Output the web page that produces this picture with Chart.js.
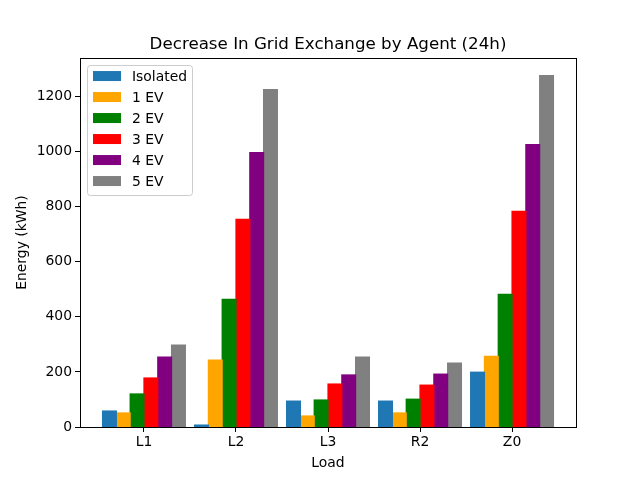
<!DOCTYPE html>
<html>
<head>
    <script src="https://cdn.jsdelivr.net/npm/chart.js@4/dist/chart.umd.min.js"></script>
    <style>
        html, body { margin: 0; padding: 0; background: #fff; }
        #wrap { width: 640px; height: 480px; }
    </style>
</head>
<body>
    <div id="wrap"><canvas id="chart" width="640" height="480"></canvas></div>
    <script>
        // loads on the x axis
        const loads = ['L1', 'L2', 'L3', 'R2', 'Z0'];
        // energy decrease (kWh) per series
        const isolated = [58, 7, 94, 94, 199];
        const ev1 = [51, 243, 40, 51, 257];
        const ev2 = [120, 464, 98, 101, 482];
        const ev3 = [178, 754, 156, 152, 783];
        const ev4 = [254, 997, 189, 192, 1026];
        const ev5 = [297, 1225, 254, 232, 1276];
        const seriesNames = ['Isolated', '1 EV', '2 EV', '3 EV', '4 EV', '5 EV'];
        const seriesValues = [isolated, ev1, ev2, ev3, ev4, ev5];
        const seriesColors = ['#1f77b4', '#ffa500', '#008000', '#ff0000', '#800080', '#808080'];
        const yTicks = [0, 200, 400, 600, 800, 1000, 1200];

        const FONT = 'DejaVu Sans';

        // box round the plot area, like matplotlib spines
        const frame = {
            id: 'frame',
            afterDatasetsDraw(chart) {
                const a = chart.chartArea;
                const ctx = chart.ctx;
                ctx.save();
                ctx.strokeStyle = '#000';
                ctx.lineWidth = 1;
                ctx.strokeRect(Math.round(a.left) + 0.5, Math.round(a.top) + 0.5,
                    Math.round(a.right - a.left), Math.round(a.bottom - a.top));
                ctx.restore();
            }
        };

        // legend inside the upper left corner
        const innerLegend = {
            id: 'innerLegend',
            afterDraw(chart) {
                const a = chart.chartArea;
                const ctx = chart.ctx;
                const x0 = a.left + 7, y0 = a.top + 7;
                const w = 105, h = 130, row = 21;
                ctx.save();
                ctx.fillStyle = 'rgba(255,255,255,0.8)';
                ctx.strokeStyle = '#cccccc';
                ctx.lineWidth = 1;
                ctx.beginPath();
                ctx.roundRect(x0 + 0.5, y0 + 0.5, w, h, 3);
                ctx.fill();
                ctx.stroke();
                ctx.font = '13.9px ' + FONT;
                ctx.textBaseline = 'middle';
                chart.data.datasets.forEach((ds, i) => {
                    const cy = y0 + 11 + i * row;
                    ctx.fillStyle = ds.backgroundColor;
                    ctx.fillRect(x0 + 6, cy - 5, 28, 10);
                    ctx.fillStyle = '#000';
                    ctx.fillText(ds.label, x0 + 45, cy + 1);
                });
                ctx.restore();
            }
        };

        new Chart(document.getElementById('chart'), {
            type: 'bar',
            data: {
                datasets: seriesNames.map((name, i) => ({
                    label: name,
                    data: seriesValues[i].map((v, j) => ({ x: j, y: v })),
                    backgroundColor: seriesColors[i],
                    borderWidth: 0,
                    inflateAmount: 0.6,
                    categoryPercentage: 0.9,
                    barPercentage: 1.0
                }))
            },
            options: {
                responsive: false,
                animation: false,
                layout: { padding: { left: 0, right: 64, top: 0, bottom: 0 } },
                plugins: {
                    legend: { display: false },
                    tooltip: { enabled: false },
                    title: {
                        display: true,
                        fullSize: false,
                        text: 'Decrease In Grid Exchange by Agent (24h)',
                        color: '#000',
                        font: { family: FONT, size: 16.7, weight: 'normal' },
                        padding: { top: 35, bottom: 3 }
                    }
                },
                scales: {
                    x: {
                        type: 'linear',
                        offset: false,
                        min: -0.695,
                        max: 4.695,
                        afterBuildTicks(scale) {
                            scale.ticks = loads.map((_, i) => ({ value: i }));
                        },
                        afterFit(scale) { scale.height = 53; },
                        ticks: {
                            callback: (v) => loads[v],
                            color: '#000',
                            font: { family: FONT, size: 13.9 },
                            padding: 2,
                            maxRotation: 0,
                            autoSkip: false
                        },
                        grid: { drawOnChartArea: false, offset: false, tickLength: 5, color: '#000' },
                        border: { color: '#000' },
                        title: {
                            display: true,
                            text: 'Load',
                            color: '#000',
                            font: { family: FONT, size: 13.9 },
                            padding: { top: 2, bottom: 8 }
                        }
                    },
                    y: {
                        min: 0,
                        max: 1340,
                        afterBuildTicks(scale) {
                            scale.ticks = yTicks.map(v => ({ value: v }));
                        },
                        afterFit(scale) { scale.width = 80; },
                        ticks: {
                            callback: (v) => String(v),
                            color: '#000',
                            font: { family: FONT, size: 13.9 },
                            padding: 3
                        },
                        grid: { drawOnChartArea: false, tickLength: 5, color: '#000' },
                        border: { color: '#000' },
                        title: {
                            display: true,
                            text: 'Energy (kWh)',
                            color: '#000',
                            font: { family: FONT, size: 13.9 },
                            padding: { top: 14, bottom: 0 }
                        }
                    }
                }
            },
            plugins: [frame, innerLegend]
        });
    </script>
</body>
</html>
